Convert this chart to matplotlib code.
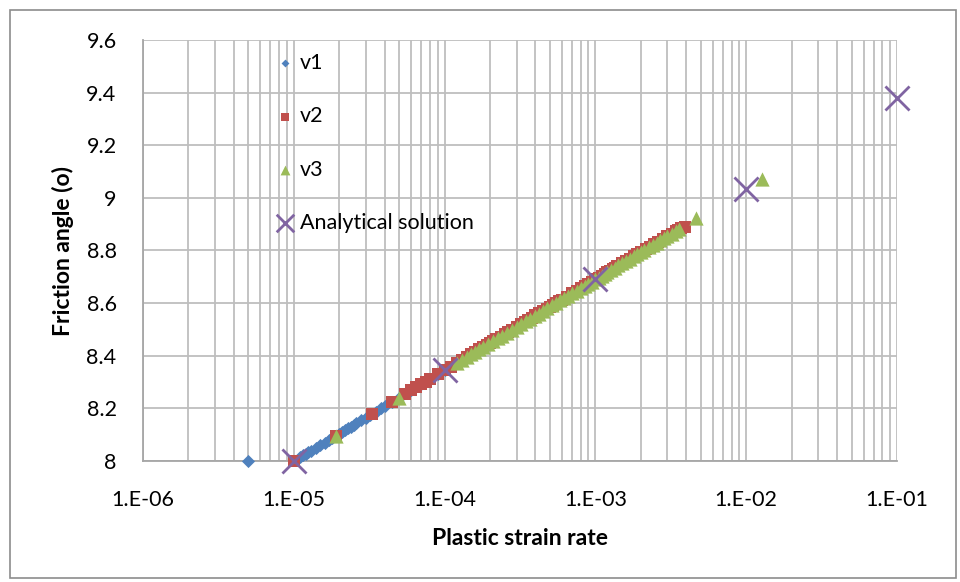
import matplotlib
matplotlib.use("Agg")
import matplotlib.pyplot as plt
from matplotlib.patches import Rectangle
from matplotlib.ticker import LogLocator, FixedLocator, NullFormatter

# ---- data ----
v1_x = [5e-6, 1.1e-5, 1.15e-5, 1.2e-5, 1.25e-5, 1.3e-5, 1.4e-5, 1.5e-5, 1.6e-5, 1.7e-5, 1.8e-5,
        1.9e-5, 2.0e-5, 2.1e-5, 2.2e-5, 2.3e-5, 2.4e-5, 2.5e-5, 2.6e-5, 2.8e-5, 3.0e-5,
        3.2e-5, 3.5e-5, 3.8e-5, 4.0e-5, 4.5e-5, 5e-5, 6e-5, 7e-5, 8e-5, 9e-5, 1.0e-4,
        1.2e-4, 1.4e-4, 1.6e-4, 1.8e-4]
v1_y = [8.000, 8.014, 8.021, 8.027, 8.033, 8.039, 8.050, 8.061, 8.070, 8.079, 8.088,
        8.096, 8.104, 8.111, 8.118, 8.125, 8.131, 8.137, 8.143, 8.154, 8.165,
        8.174, 8.188, 8.200, 8.208, 8.225, 8.241, 8.268, 8.292, 8.312, 8.329, 8.345,
        8.372, 8.395, 8.415, 8.433]

v2_x = [1.0e-5, 1.9e-5, 3.3e-5, 4.5e-5, 5.5e-5, 6e-5, 6.5e-5, 7e-5, 7.5e-5, 8e-5,
        9e-5, 1.0e-4, 1.1e-4, 1.2e-4, 1.3e-4, 1.4e-4, 1.5e-4, 1.6e-4, 1.7e-4, 1.8e-4,
        1.9e-4, 2.0e-4, 2.1e-4, 2.2e-4, 2.35e-4, 2.5e-4, 2.65e-4, 2.8e-4, 3.0e-4, 3.2e-4,
        3.4e-4, 3.6e-4, 3.8e-4, 4e-4, 4.25e-4, 4.5e-4, 4.75e-4, 5e-4, 5.25e-4, 5.5e-4,
        5.75e-4, 6e-4, 6.5e-4, 7e-4, 7.5e-4, 8e-4, 8.5e-4, 9e-4, 9.5e-4, 1.0e-3,
        1.05e-3, 1.1e-3, 1.15e-3, 1.2e-3, 1.25e-3, 1.3e-3, 1.35e-3, 1.4e-3, 1.5e-3, 1.6e-3,
        1.7e-3, 1.8e-3, 1.9e-3, 2.0e-3, 2.15e-3, 2.3e-3, 2.45e-3, 2.6e-3, 2.8e-3, 3.0e-3,
        3.2e-3, 3.4e-3, 3.55e-3, 3.7e-3, 3.9e-3]
v2_y = [8.000, 8.096, 8.179, 8.225, 8.255, 8.268, 8.280, 8.292, 8.302, 8.312,
        8.329, 8.345, 8.359, 8.372, 8.384, 8.395, 8.405, 8.415, 8.424, 8.433,
        8.441, 8.449, 8.456, 8.463, 8.473, 8.482, 8.490, 8.499, 8.510, 8.519,
        8.528, 8.537, 8.545, 8.553, 8.562, 8.570, 8.578, 8.586, 8.593, 8.600,
        8.607, 8.613, 8.625, 8.637, 8.647, 8.657, 8.666, 8.674, 8.682, 8.690,
        8.697, 8.704, 8.711, 8.717, 8.723, 8.729, 8.735, 8.740, 8.751, 8.760,
        8.769, 8.778, 8.786, 8.794, 8.805, 8.815, 8.824, 8.833, 8.844, 8.855,
        8.864, 8.873, 8.879, 8.884, 8.890]

v3_x = [1.9e-5, 5e-5, 1.2e-4, 1.3e-4, 1.4e-4, 1.5e-4, 1.6e-4, 1.7e-4, 1.8e-4, 1.95e-4,
        2.1e-4, 2.25e-4, 2.4e-4, 2.6e-4, 2.8e-4, 3.0e-4, 3.2e-4, 3.45e-4, 3.7e-4, 3.95e-4,
        4.2e-4, 4.5e-4, 4.8e-4, 5.15e-4, 5.5e-4, 5.85e-4, 6.2e-4, 6.6e-4, 7e-4, 7.5e-4,
        8e-4, 8.5e-4, 9e-4, 9.5e-4, 1.0e-3, 1.05e-3, 1.1e-3, 1.15e-3, 1.2e-3, 1.27e-3,
        1.35e-3, 1.42e-3, 1.5e-3, 1.6e-3, 1.7e-3, 1.8e-3, 1.9e-3, 2.0e-3, 2.1e-3, 2.25e-3,
        2.4e-3, 2.55e-3, 2.7e-3, 2.85e-3, 3.0e-3, 3.2e-3, 3.4e-3, 3.6e-3, 4.65e-3, 1.27e-2]
v3_y = [8.096, 8.241, 8.372, 8.384, 8.395, 8.405, 8.415, 8.424, 8.433, 8.445,
        8.456, 8.467, 8.476, 8.488, 8.499, 8.510, 8.519, 8.531, 8.541, 8.551,
        8.560, 8.570, 8.580, 8.591, 8.600, 8.610, 8.618, 8.628, 8.637, 8.647,
        8.657, 8.666, 8.674, 8.682, 8.690, 8.697, 8.704, 8.711, 8.717, 8.726,
        8.735, 8.743, 8.751, 8.760, 8.769, 8.778, 8.786, 8.794, 8.801, 8.812,
        8.821, 8.830, 8.839, 8.847, 8.855, 8.864, 8.873, 8.882, 8.925, 9.070]

an_x = [1e-5, 1e-4, 1e-3, 1e-2, 1e-1]
an_y = [8.000, 8.345, 8.690, 9.035, 9.380]

x_ticks = [1e-6, 1e-5, 1e-4, 1e-3, 1e-2, 1e-1]
x_tick_labels = ["1.E-06", "1.E-05", "1.E-04", "1.E-03", "1.E-02", "1.E-01"]
y_ticks = [8.0, 8.2, 8.4, 8.6, 8.8, 9.0, 9.2, 9.4, 9.6]
y_tick_labels = ["8", "8.2", "8.4", "8.6", "8.8", "9", "9.2", "9.4", "9.6"]

# ---- figure ----
plt.rcParams['font.family'] = ['Lato', 'DejaVu Sans']
fig = plt.figure(figsize=(9.6, 5.82), dpi=100)
fig.patches.append(Rectangle((10/960, 1-578/582), 946/960, 568/582, transform=fig.transFigure,
                             fill=False, edgecolor='#8C8C8C', linewidth=1.2))
ax = fig.add_axes([143/960, 1-461/582, (897-143)/960, (461-40)/582])

grid_c = '#BEBEBE'
ax.scatter(v1_x, v1_y, marker='D', s=45, color='#4F81BD', linewidths=0, zorder=3,
           label='v1', clip_on=False)
ax.scatter(v2_x, v2_y, marker='s', s=75, color='#C0504D', linewidths=0, zorder=4,
           label='v2', clip_on=False)
ax.scatter(v3_x, v3_y, marker='^', s=105, color='#9BBB59', linewidths=0, zorder=5,
           label='v3', clip_on=False)
ax.scatter(an_x, an_y, marker='x', s=300, color='#8064A2', linewidths=2.0, zorder=6,
           label='Analytical solution', clip_on=False)

ax.set_xscale('log')
ax.set_xlim(1e-6, 1e-1)
ax.set_ylim(8.0, 9.6)
ax.xaxis.set_major_locator(FixedLocator(x_ticks))
ax.set_xticklabels(x_tick_labels)
ax.xaxis.set_minor_locator(LogLocator(base=10, subs=range(2, 10)))
ax.xaxis.set_minor_formatter(NullFormatter())
ax.set_yticks(y_ticks)
ax.set_yticklabels(y_tick_labels)

ax.grid(True, which='major', axis='both', color=grid_c, linewidth=1.3, zorder=0)
ax.grid(True, which='minor', axis='x', color=grid_c, linewidth=1.3, zorder=0)
ax.set_axisbelow(True)
ax.tick_params(axis='y', which='both', length=0, labelsize=15.5, pad=19, colors='black')
ax.tick_params(axis='x', which='both', length=0, labelsize=15.5, pad=21, colors='black')
for s in ['top', 'right']:
    ax.spines[s].set_visible(False)
for s in ['left', 'bottom']:
    ax.spines[s].set_color('#A6A6A6')
    ax.spines[s].set_linewidth(1.3)

ax.set_xlabel('Plastic strain rate', fontsize=16.5, fontweight='bold', labelpad=13)
ax.set_ylabel('Friction angle (o)', fontsize=16.5, fontweight='bold', labelpad=9)

leg = ax.legend(loc='upper left', bbox_to_anchor=(0.165, 0.99), frameon=False,
                fontsize=15.5, labelspacing=1.55, handlelength=0.8, handletextpad=0.3,
                borderaxespad=0, scatterpoints=1)
for h, sz in zip(leg.legend_handles, [16, 36, 50, 160]):
    h.set_sizes([sz])

fig.savefig('out.png', dpi=100)
